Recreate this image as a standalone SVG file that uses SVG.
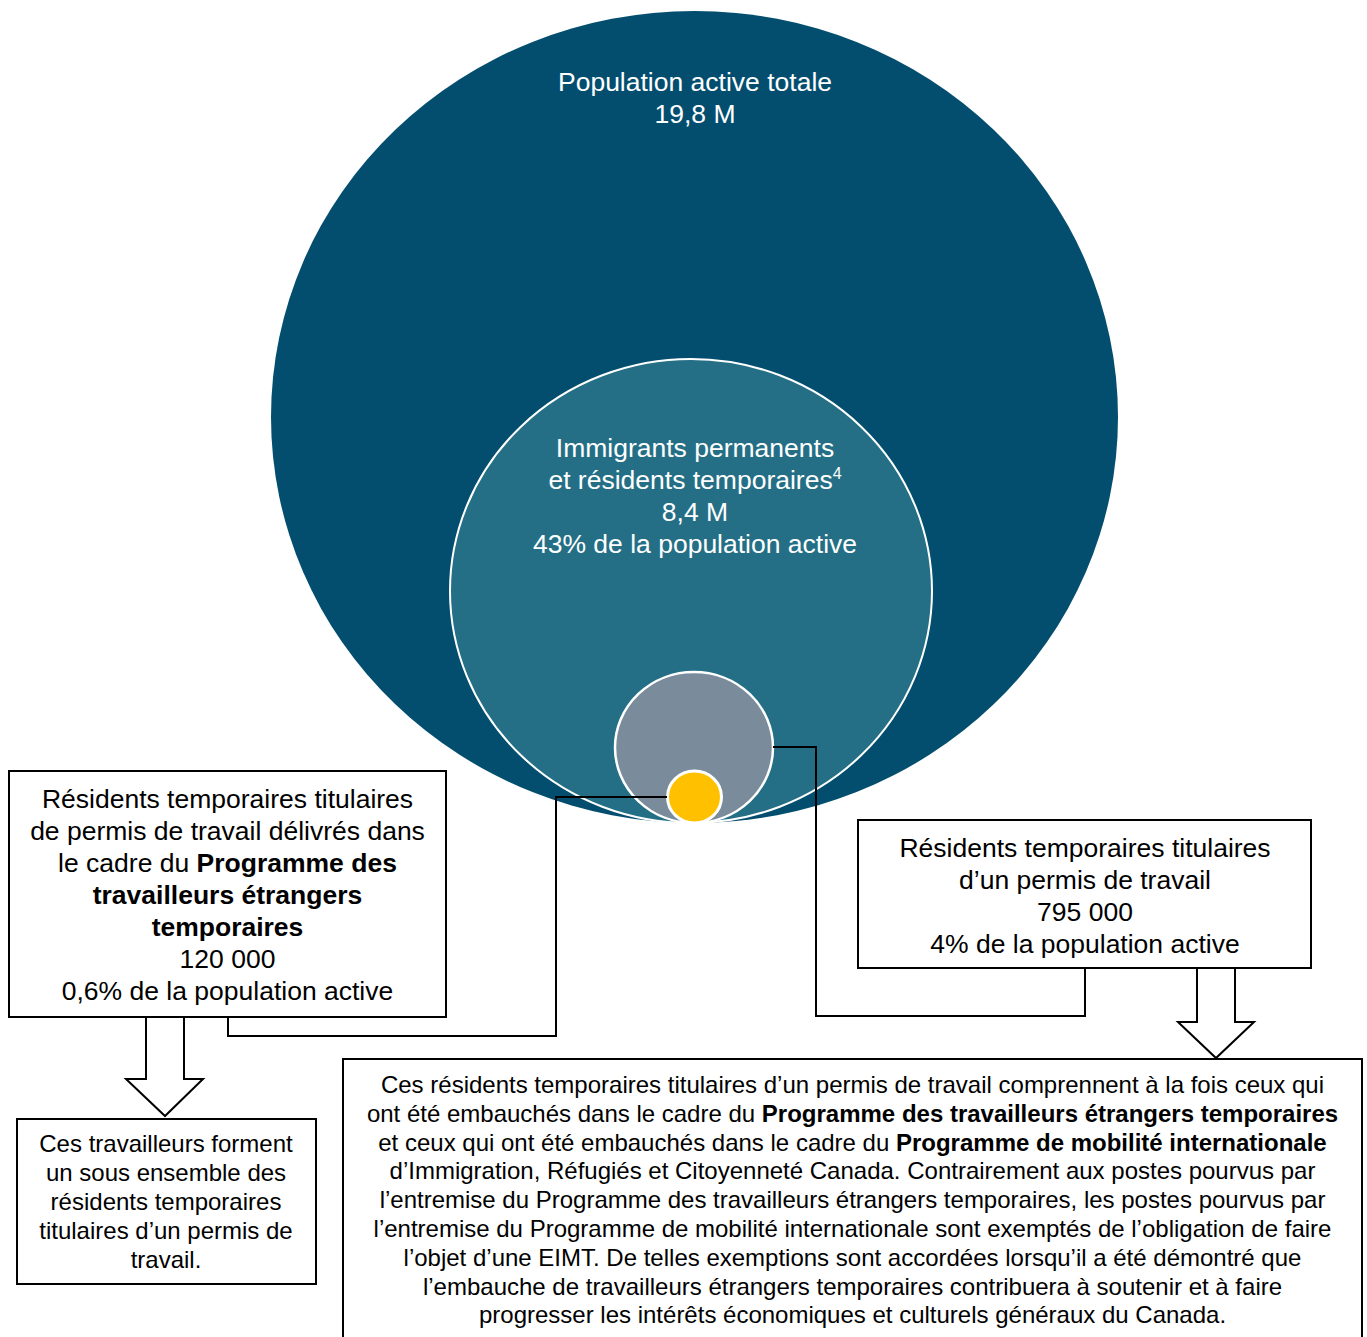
<svg xmlns="http://www.w3.org/2000/svg" width="1367" height="1337" viewBox="0 0 1367 1337">
<style>
.t{font-family:"Liberation Sans",Arial,sans-serif;text-anchor:middle}
.w{fill:#ffffff;font-size:26.5px}
.k{fill:#000000;font-size:26.5px}
.s{fill:#000000;font-size:24px}
.b{font-weight:bold}
.box{fill:#ffffff;stroke:#000000;stroke-width:2}
.conn{fill:none;stroke:#000000;stroke-width:2}
</style>
<rect width="1367" height="1337" fill="#ffffff"/>
<g id="circle-total">
<ellipse cx="694.5" cy="417" rx="423.5" ry="406" fill="#034E6F"/>
<text class="t w" x="695" y="90.5">Population active totale</text>
<text class="t w" x="695" y="122.5">19,8 M</text>
</g>
<g id="circle-immigrants">
<ellipse cx="691" cy="591" rx="241" ry="232" fill="#246F86" stroke="#ffffff" stroke-width="2"/>
<text class="t w" x="695" y="456.5">Immigrants permanents</text>
<text class="t w" x="695" y="488.5">et résidents temporaires<tspan font-size="16" dy="-10">4</tspan></text>
<text class="t w" x="695" y="520.5">8,4 M</text>
<text class="t w" x="695" y="552.5">43% de la population active</text>
</g>
<g id="circle-permis">
<ellipse cx="694" cy="747.5" rx="79" ry="75.5" fill="#7A8C9C" stroke="#ffffff" stroke-width="2.5"/>
</g>
<g id="circle-ptet">
<ellipse cx="694.5" cy="797" rx="27" ry="26" fill="#FFC000" stroke="#ffffff" stroke-width="3"/>
</g>
<g id="connectors">
<polyline class="conn" points="667,797 556,797 556,1036 228,1036 228,1017"/>
<polyline class="conn" points="773,747 816,747 816,1016 1085,1016 1085,968"/>
<polygon class="box" points="146,1017 184,1017 184,1079 203,1079 165,1116 126,1079 146,1079"/>
<polygon class="box" points="1197,968 1235,968 1235,1022 1254,1022 1216,1058 1178,1022 1197,1022"/>
</g>
<g id="box-ptet">
<rect class="box" x="9" y="771" width="437" height="246"/>
<text class="t k" x="227.5" y="807.5">Résidents temporaires titulaires</text>
<text class="t k" x="227.5" y="839.5">de permis de travail délivrés dans</text>
<text class="t k" x="227.5" y="871.5">le cadre du <tspan class="b">Programme des</tspan></text>
<text class="t k b" x="227.5" y="903.5">travailleurs étrangers</text>
<text class="t k b" x="227.5" y="935.5">temporaires</text>
<text class="t k" x="227.5" y="967.5">120 000</text>
<text class="t k" x="227.5" y="999.5">0,6% de la population active</text>
</g>
<g id="box-permis">
<rect class="box" x="858" y="820" width="453" height="148"/>
<text class="t k" x="1085" y="856.5">Résidents temporaires titulaires</text>
<text class="t k" x="1085" y="888.5">d’un permis de travail</text>
<text class="t k" x="1085" y="920.5">795 000</text>
<text class="t k" x="1085" y="952.5">4% de la population active</text>
</g>
<g id="box-subset">
<rect class="box" x="17" y="1119" width="299" height="165"/>
<text class="t s" x="166" y="1151.5">Ces travailleurs forment</text>
<text class="t s" x="166" y="1180.5">un sous ensemble des</text>
<text class="t s" x="166" y="1209.5">résidents temporaires</text>
<text class="t s" x="166" y="1238.5">titulaires d’un permis de</text>
<text class="t s" x="166" y="1267.5">travail.</text>
</g>
<g id="box-note">
<rect class="box" x="343" y="1059" width="1019" height="290"/>
<text class="t s" x="852.5" y="1092.5">Ces résidents temporaires titulaires d’un permis de travail comprennent à la fois ceux qui</text>
<text class="t s" x="852.5" y="1121.5">ont été embauchés dans le cadre du <tspan class="b">Programme des travailleurs étrangers temporaires</tspan></text>
<text class="t s" x="852.5" y="1150.5">et ceux qui ont été embauchés dans le cadre du <tspan class="b">Programme de mobilité internationale</tspan></text>
<text class="t s" x="852.5" y="1178.5">d’Immigration, Réfugiés et Citoyenneté Canada. Contrairement aux postes pourvus par</text>
<text class="t s" x="852.5" y="1207.5">l’entremise du Programme des travailleurs étrangers temporaires, les postes pourvus par</text>
<text class="t s" x="852.5" y="1236.5">l’entremise du Programme de mobilité internationale sont exemptés de l’obligation de faire</text>
<text class="t s" x="852.5" y="1265.5">l’objet d’une EIMT. De telles exemptions sont accordées lorsqu’il a été démontré que</text>
<text class="t s" x="852.5" y="1294.5">l’embauche de travailleurs étrangers temporaires contribuera à soutenir et à faire</text>
<text class="t s" x="852.5" y="1322.5">progresser les intérêts économiques et culturels généraux du Canada.</text>
</g>
</svg>
